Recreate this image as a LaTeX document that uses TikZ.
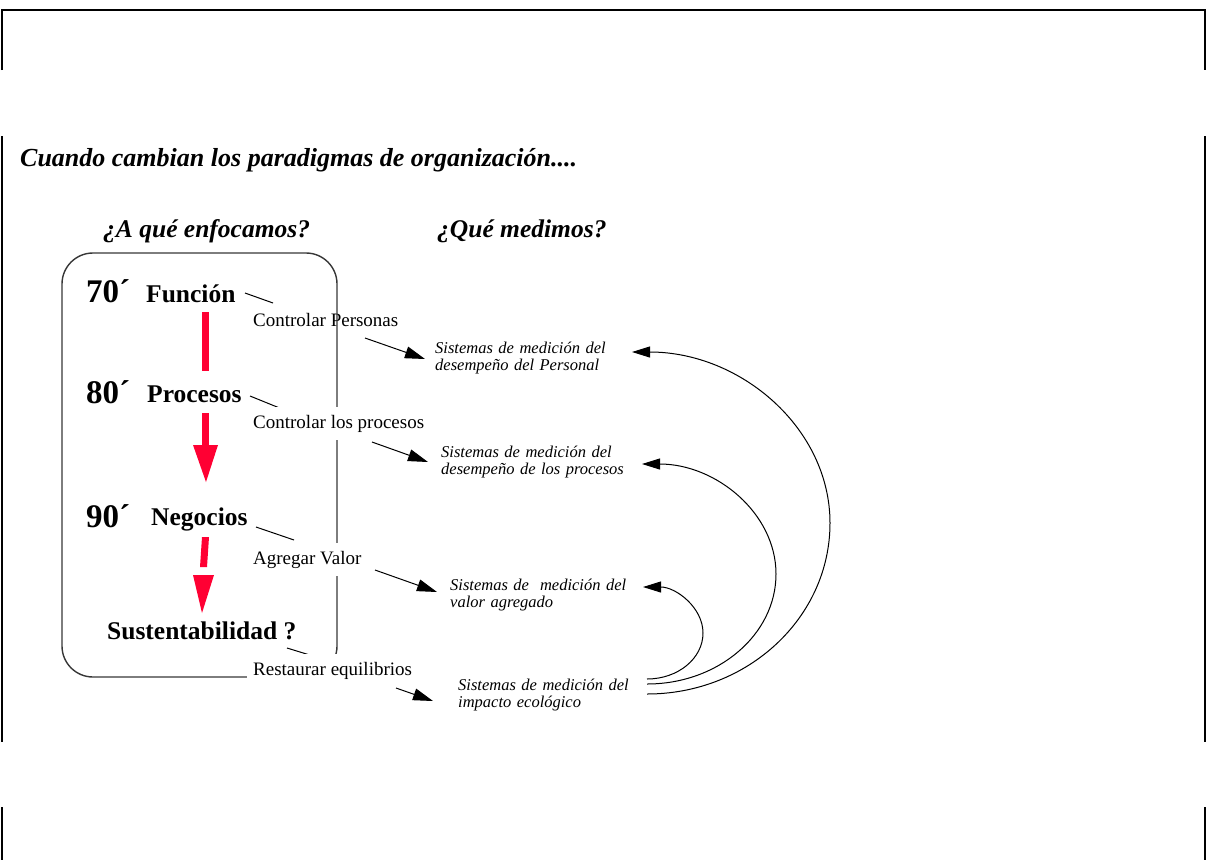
\documentclass[tikz,border=0pt]{standalone}
\usepackage{fontspec}
\setmainfont{Liberation Serif}
\usetikzlibrary{arrows.meta,calc}
\definecolor{barred}{RGB}{255,0,51}
\definecolor{boxgray}{RGB}{55,55,55}
\begin{document}
\begin{tikzpicture}[x=1pt,y=-1pt,
  frame/.style={line width=2pt,black},
  titletxt/.style={anchor=base west,inner sep=0pt,font=\fontsize{26}{30}\selectfont\bfseries\itshape},
  subtxt/.style={anchor=base west,inner sep=0pt,font=\fontsize{25.5}{30}\selectfont\bfseries\itshape},
  dectxt/.style={anchor=base west,inner sep=0pt,font=\fontsize{33}{38}\selectfont\bfseries},
  headtxt/.style={anchor=base west,inner sep=0pt,font=\fontsize{25.5}{30}\selectfont\bfseries},
  acttxt/.style={anchor=base west,inner xsep=6pt,inner ysep=7pt,text height=14pt,text depth=5pt,fill=white,font=\fontsize{19}{22}\selectfont},
  systxt/.style={anchor=base west,inner sep=0pt,text width=220pt,align=left,font=\fontsize{16.5}{17.5}\selectfont\itshape},
  link/.style={line width=1pt,black},
  arr/.style={line width=1pt,black,-{Triangle[length=20pt,width=12pt]}},
  back/.style={line width=1pt,black,-{Triangle[length=18pt,width=11pt]}},
  groupbox/.style={line width=1.4pt,boxgray,rounded corners=31pt}
]
\useasboundingbox (0,0) rectangle (1207,860);

% frame lines
\draw[frame] (2,70) -- (2,10) -- (1205,10) -- (1205,70);
\draw[frame] (2,136) -- (2,742);
\draw[frame] (1205,136) -- (1205,742);
\draw[frame] (2,807) -- (2,860);
\draw[frame] (1205,807) -- (1205,860);

% titles
\node[titletxt] (title) at (20,166) {Cuando cambian los paradigmas de organización....};
\node[subtxt] (q1) at (103,237) {¿A qué enfocamos?};
\node[subtxt] (q2) at (437,237) {¿Qué medimos?};

% action label drawn under the box
\node[acttxt,fill=none] (cp) at (247,326) {Controlar Personas};

% group box
\draw[groupbox] (62,253) rectangle (337,677);

% decades and headlines
\node[dectxt] (d70) at (86,302) {70´};
\node[dectxt] (d80) at (86,403) {80´};
\node[dectxt] (d90) at (86,527) {90´};
\node[headtxt] (fun) at (146,302) {Función};
\node[headtxt] (proc) at (147,402) {Procesos};
\node[headtxt] (neg) at (151,525) {Negocios};
\node[headtxt] (sus) at (107,639) {Sustentabilidad ?};

% red arrows
\fill[barred] (202,312) rectangle (209,371);
\fill[barred] (202,413) rectangle (209,447);
\fill[barred] (193,445) -- (218,445) -- (206,482) -- cycle;
\fill[barred] (202,537) -- (209,537) -- (207,567) -- (200,567) -- cycle;
\fill[barred] (193,575) -- (214,575) -- (202,613) -- cycle;

% short links (drawn before the filled labels)
\draw[link] ($(fun.base west)+(99,-9)$) -- ($(cp.base west)+(26,-23)$);
\draw[link] ($(proc.base west)+(103,-6)$) -- (282,409);
\draw[link] ($(neg.base west)+(105,2)$) -- (294,540);
\draw[link] ($(sus.base west)+(180,9)$) -- (313,656);

% filled action labels
\node[acttxt] (clp) at (247,428) {Controlar los procesos};
\node[acttxt] (av) at (247,564) {Agregar Valor};
\node[acttxt] (re) at (247,675) {Restaurar equilibrios};

% measurement systems
\node[systxt] (per) at (435,353) {Sistemas de medición del\\desempeño del Personal};
\node[systxt] (pro) at (441,457) {Sistemas de medición del\\desempeño de los procesos};
\node[systxt] (val) at (450,590) {Sistemas de\ \ medición del\\valor agregado};
\node[systxt] (imp) at (458,690) {Sistemas de medición del\\impacto ecológico};

% arrows to systems
\draw[arr] ($(cp.base west)+(118,12)$) -- ($(per.base west)+(-10,6)$);
\draw[arr] ($(clp.base west)+(125,14)$) -- ($(pro.base west)+(-13,5)$);
\draw[arr] ($(av.base west)+(128,6)$) -- ($(val.base west)+(-13,2)$);
\draw[arr] ($(re.base west)+(149,13)$) -- ($(imp.base west)+(-25,11)$);

% feedback arcs
\coordinate (a1s) at ($(imp.base west)+(189,4)$);
\coordinate (a2s) at ($(imp.base west)+(189,-6)$);
\coordinate (a3s) at ($(imp.base west)+(189,-11)$);
\coordinate (a1e) at ($(per.base west)+(197,-1)$);
\coordinate (a2e) at ($(pro.base west)+(201,7)$);
\coordinate (a3e) at ($(val.base west)+(193,-3)$);
\draw[back] (a1s) .. controls (748,694) and (830,617.6) .. (830,523)
  .. controls (830,428.4) and (741,352) .. (a1e);
\draw[back] (a2s) .. controls (718,684) and (776,634.75) .. (776,574)
  .. controls (776,513.25) and (716,464) .. (a2e);
\draw[back] (a3s) .. controls (678,679) and (703,658.4) .. (703,633)
  .. controls (703,607.6) and (676,587) .. (a3e);
\end{tikzpicture}
\end{document}
